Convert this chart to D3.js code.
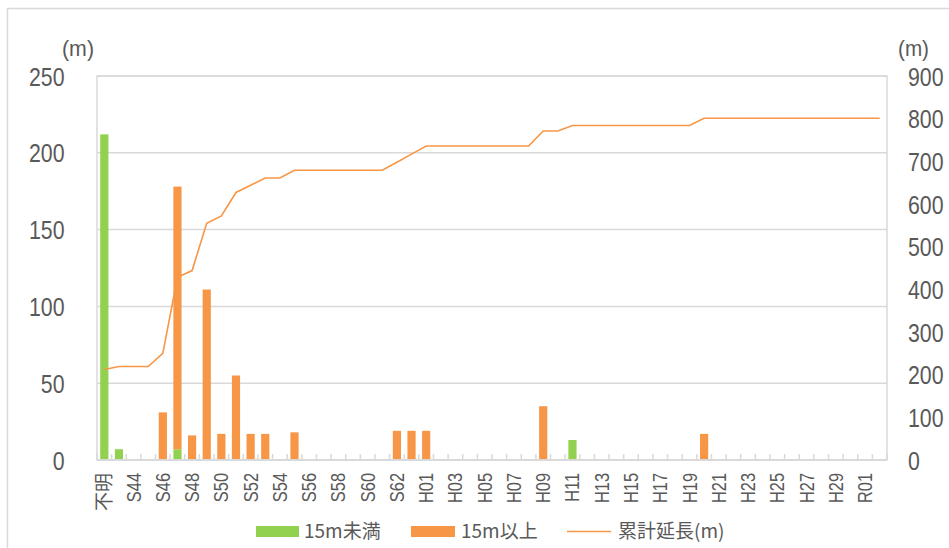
<!DOCTYPE html>
<html>
<head>
<meta charset="utf-8">
<script src="https://cdn.jsdelivr.net/npm/d3@7"></script>
<style>
  body { margin: 0; background: #fff; }
  svg { display: block; }
  .tick-num { font-family: "Liberation Sans", Arial, sans-serif; fill: #595959; }
  .legend text { font-family: "Noto Sans CJK JP", sans-serif; fill: #595959; font-size: 19px; }
</style>
</head>
<body>
<svg id="chart" width="949" height="548"></svg>
<script>
// categories (year labels)
const categories = ["不明",
  "S43","S44","S45","S46","S47","S48","S49","S50","S51","S52","S53","S54","S55","S56","S57","S58","S59","S60","S61","S62","S63",
  "H01","H02","H03","H04","H05","H06","H07","H08","H09","H10","H11","H12","H13","H14","H15","H16","H17","H18","H19","H20",
  "H21","H22","H23","H24","H25","H26","H27","H28","H29","H30",
  "R01","R02"]

// 15m未満
const under15 = [212,7,0,0,0,7,0,0,0,0, 0,0,0,0,0,0,0,0,0,0, 0,0,0,0,0,0,0,0,0,0, 0,0,13,0,0,0,0,0,0,0, 0,0,0,0,0,0,0,0,0,0, 0,0,0,0]
// 15m以上
const over15 = [0,0,0,0,31,171,16,111,17,55, 17,17,0,18,0,0,0,0,0,0, 19,19,19,0,0,0,0,0,0,0, 35,0,0,0,0,0,0,0,0,0, 0,17,0,0,0,0,0,0,0,0, 0,0,0,0]
// 累計延長(m)
const cumulative = [212,219,219,219,250,428,444,555,572,627, 644,661,661,679,679,679,679,679,679,679,
  698,717,736,736,736,736,736,736,736,736, 771,771,784,784,784,784,784,784,784,784,
  784,801,801,801,801,801,801,801,801,801, 801,801,801,801]

const leftTicks = [0,50,100,150,200,250]
const rightTicks = [0,100,200,300,400,500,600,700,800,900]

const green = "#92D050", orange = "#F79646", grid = "#d9d9d9", textGrey = "#595959"
const narrow = 0.82 // horizontal squeeze to imitate a narrow face

let svg = d3.select("#chart")
const pLeft = 97, pRight = 887, pTop = 76, pBottom = 460

// outer chart border
svg.append("path")
  .attr("d", `M949,8.5 H7.5 V548`)
  .attr("fill", "none").attr("stroke", grid).attr("stroke-width", 1.5)

let xScale = d3.scaleBand().domain(categories).range([pLeft, pRight]).paddingInner(0.44).paddingOuter(0.22)
let step = (pRight - pLeft) / categories.length
let yLeft = d3.scaleLinear().domain([0, 250]).range([pBottom, pTop])
let yRight = d3.scaleLinear().domain([0, 900]).range([pBottom, pTop])

// gridlines
svg.append("g").selectAll("line").data(leftTicks.slice(1))
  .enter().append("line")
  .attr("x1", pLeft).attr("x2", pRight)
  .attr("y1", d => yLeft(d)).attr("y2", d => yLeft(d))
  .attr("stroke", grid).attr("stroke-width", 1.5)

// plot border
svg.append("rect")
  .attr("x", pLeft).attr("y", pTop).attr("width", pRight - pLeft).attr("height", pBottom - pTop)
  .attr("fill", "none").attr("stroke", grid).attr("stroke-width", 1.5)

// stacked bars
let table = categories.map((c, i) => ({cat: c, under: under15[i], over: over15[i]}))
let stacked = d3.stack().keys(["under", "over"])(table)
let colors = {under: green, over: orange}
svg.append("g").selectAll("g").data(stacked)
  .enter().append("g")
  .attr("fill", d => colors[d.key])
  .selectAll("rect").data(d => d.filter(p => p[1] > p[0]))
  .enter().append("rect")
  .attr("x", d => xScale(d.data.cat))
  .attr("width", xScale.bandwidth())
  .attr("y", d => yLeft(d[1]))
  .attr("height", d => yLeft(d[0]) - yLeft(d[1]))

// category axis line + inside tick marks at boundaries
svg.append("line")
  .attr("x1", pLeft).attr("x2", pRight).attr("y1", pBottom).attr("y2", pBottom)
  .attr("stroke", grid).attr("stroke-width", 2)
svg.append("g").selectAll("line").data(d3.range(categories.length + 1))
  .enter().append("line")
  .attr("x1", i => pLeft + i * step).attr("x2", i => pLeft + i * step)
  .attr("y1", pBottom).attr("y2", pBottom - 6)
  .attr("stroke", grid).attr("stroke-width", 1.5)

// cumulative line
let line = d3.line()
  .x((d, i) => xScale(categories[i]) + xScale.bandwidth() / 2)
  .y(d => yRight(d))
svg.append("path").datum(cumulative)
  .attr("d", line)
  .attr("fill", "none").attr("stroke", orange).attr("stroke-width", 1.6)

// left axis
let yAxisL = d3.axisLeft(yLeft).tickValues(leftTicks).tickSize(0).tickPadding(0)
let gl = svg.append("g").attr("transform", `translate(${64.5},0)`).call(yAxisL)
gl.select(".domain").remove()
gl.attr("font-family", null).attr("font-size", null)
gl.selectAll("text").attr("class", "tick-num").attr("font-size", 26).attr("dy", "0.35em")
  .attr("x", 0).attr("fill", textGrey).attr("transform", `scale(${narrow},1)`)

// right axis
let yAxisR = d3.axisRight(yRight).tickValues(rightTicks).tickSize(0).tickPadding(0)
let gr = svg.append("g").attr("transform", `translate(${908},0)`).call(yAxisR)
gr.select(".domain").remove()
gr.attr("font-family", null).attr("font-size", null)
gr.selectAll("text").attr("class", "tick-num").attr("font-size", 26).attr("dy", "0.35em")
  .attr("x", 0).attr("fill", textGrey).attr("transform", `scale(${narrow},1)`)

// x labels (every other category)
let xAxis = d3.axisBottom(xScale)
  .tickValues(categories.filter((c, i) => i % 2 === 0))
  .tickSize(0).tickPadding(0)
let gx = svg.append("g").attr("transform", `translate(0,${473})`).call(xAxis)
gx.select(".domain").remove()
gx.attr("font-family", null).attr("font-size", null)
let isCJK = s => /[^\x00-\x7F]/.test(s)
gx.selectAll("text")
  .attr("class", "tick-num")
  .attr("font-size", d => isCJK(d) ? 19 : 20)
  .style("font-family", "'Liberation Sans', 'Noto Sans CJK JP', sans-serif")
  .attr("fill", textGrey)
  .attr("text-anchor", "end")
  .attr("transform", d => isCJK(d) ? "rotate(-90)" : `rotate(-90) scale(${narrow},1)`)
  .attr("x", 0).attr("y", 0).attr("dy", "0.35em")

// unit labels
svg.append("text").attr("class", "tick-num").attr("x", 62).attr("y", 56)
  .attr("font-size", 22).attr("textLength", 32).attr("lengthAdjust", "spacingAndGlyphs").text("(m)")
svg.append("text").attr("class", "tick-num").attr("x", 898).attr("y", 56)
  .attr("font-size", 22).attr("textLength", 31).attr("lengthAdjust", "spacingAndGlyphs").text("(m)")

// legend
let legend = svg.append("g").attr("class", "legend")
legend.append("rect").attr("x", 256).attr("y", 526).attr("width", 43).attr("height", 11).attr("fill", green)
legend.append("text").attr("x", 304).attr("y", 538).text("15m未満")
legend.append("rect").attr("x", 411).attr("y", 526).attr("width", 44).attr("height", 11).attr("fill", orange)
legend.append("text").attr("x", 461).attr("y", 538).text("15m以上")
legend.append("line").attr("x1", 567).attr("x2", 611).attr("y1", 531.5).attr("y2", 531.5)
  .attr("stroke", orange).attr("stroke-width", 1.6)
legend.append("text").attr("x", 618).attr("y", 538).text("累計延長(m)")
</script>
</body>
</html>
